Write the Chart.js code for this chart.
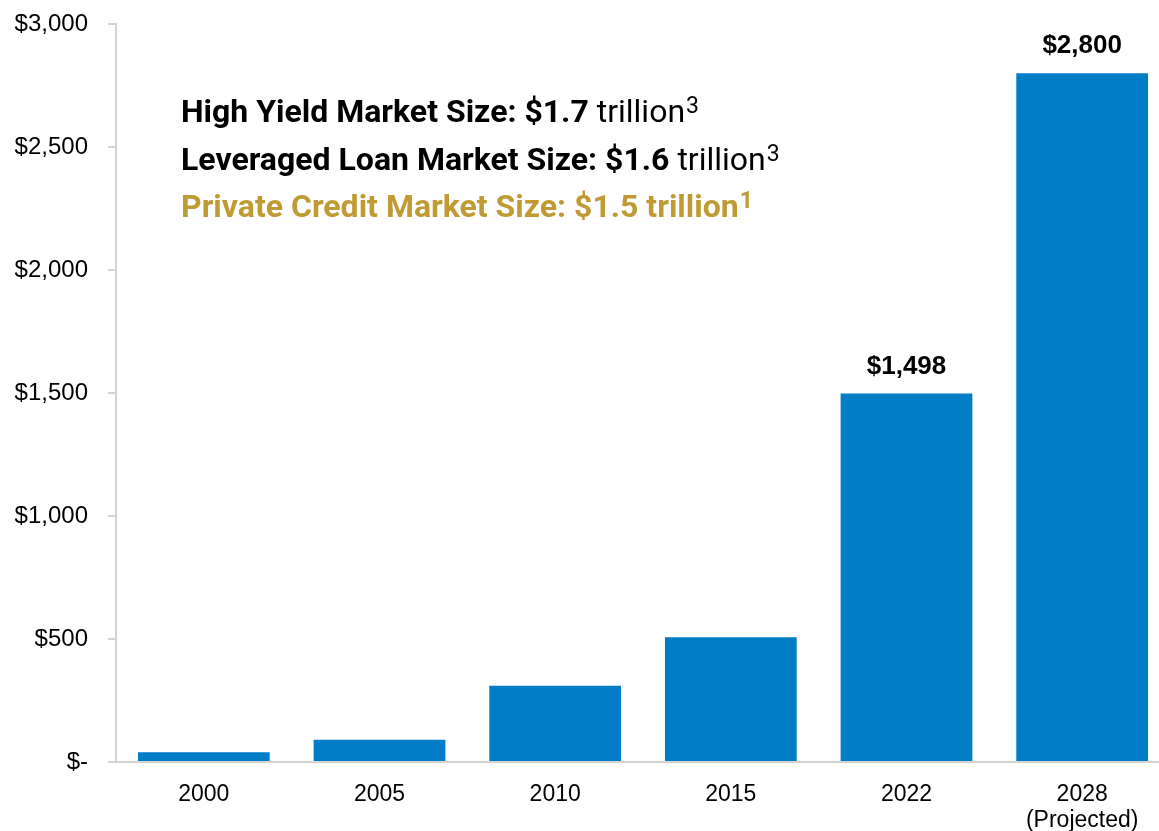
<!DOCTYPE html>
<html>
<head>
<meta charset="utf-8">
<script src="https://cdn.jsdelivr.net/npm/chart.js@4.4.1/dist/chart.umd.min.js"></script>
<style>
  html, body { margin: 0; padding: 0; background: #fff; overflow: hidden; }
  #wrap { position: absolute; left: 0; top: 0; width: 1170px; height: 831px; }
</style>
</head>
<body>
<div id="wrap"><canvas id="c" width="1170" height="831"></canvas></div>
<script>
// ---- data ----
const categories = ["2000", "2005", "2010", "2015", "2022", ["2028", "(Projected)"]];
const marketSize = [40, 90, 310, 507, 1498, 2800];
const valueLabels = [null, null, null, null, "$1,498", "$2,800"];
const yTickValues = [0, 500, 1000, 1500, 2000, 2500, 3000];
const yTickLabels = ["$-", "$500", "$1,000", "$1,500", "$2,000", "$2,500", "$3,000"];
const noteLines = [
  { color: "#000000", parts: [["High Yield Market Size: $1.7 ", "bold"], ["trillion", "normal"], ["3", "sup"]] },
  { color: "#000000", parts: [["Leveraged Loan Market Size: $1.6 ", "bold"], ["trillion", "normal"], ["3", "sup"]] },
  { color: "#C09A32", parts: [["Private Credit Market Size: $1.5 trillion", "bold"], ["1", "supbold"]] }
];

const BAR_COLOR = "#007DC5";
const AXIS_COLOR = "#D3D3D3";
const NOTE_FONT = "Roboto";

const valueLabelPlugin = {
  id: "valueLabels",
  afterDatasetsDraw(chart) {
    const ctx = chart.ctx;
    const meta = chart.getDatasetMeta(0);
    ctx.save();
    ctx.font = "bold 26px 'Liberation Sans', Arial, sans-serif";
    ctx.fillStyle = "#000";
    ctx.textAlign = "center";
    ctx.textBaseline = "middle";
    meta.data.forEach((bar, i) => {
      if (valueLabels[i]) ctx.fillText(valueLabels[i], bar.x, bar.y - 27);
    });
    ctx.restore();
  }
};

const notePlugin = {
  id: "notes",
  afterDraw(chart) {
    const ctx = chart.ctx;
    const x0 = 181;
    const baselines = [122, 169.5, 217];
    ctx.save();
    ctx.textBaseline = "alphabetic";
    ctx.textAlign = "left";
    noteLines.forEach((line, li) => {
      let x = x0;
      ctx.fillStyle = line.color;
      line.parts.forEach(([t, kind]) => {
        let y = baselines[li];
        if (kind === "bold") ctx.font = `bold 32px ${NOTE_FONT}`;
        else if (kind === "normal") ctx.font = `32px ${NOTE_FONT}`;
        else if (kind === "sup") { ctx.font = `23px ${NOTE_FONT}`; y -= 9; x += 1; }
        else { ctx.font = `bold 23px ${NOTE_FONT}`; y -= 9; x += 1; }
        ctx.fillText(t, x, y);
        x += ctx.measureText(t).width;
      });
    });
    ctx.restore();
  }
};

new Chart(document.getElementById("c"), {
  type: "bar",
  data: {
    labels: categories,
    datasets: [{
      data: marketSize,
      backgroundColor: BAR_COLOR,
      barPercentage: 0.75,
      categoryPercentage: 1.0,
      borderWidth: 0
    }]
  },
  options: {
    responsive: false,
    animation: false,
    layout: { padding: { top: 24, right: 0, left: 0, bottom: 0 } },
    plugins: { legend: { display: false }, tooltip: { enabled: false } },
    scales: {
      x: {
        grid: { display: true, drawOnChartArea: false, drawTicks: false },
        border: { display: true, color: AXIS_COLOR, width: 2 },
        ticks: {
          color: "#000",
          padding: 20,
          maxRotation: 0,
          font: { family: "'Liberation Sans', Arial, sans-serif", size: 23, lineHeight: 1.12 }
        },
        afterFit(scale) { scale.height = 69; }
      },
      y: {
        min: 0, max: 3000,
        afterBuildTicks(scale) { scale.ticks = yTickValues.map(v => ({ value: v })); },
        grid: { display: true, drawOnChartArea: false, drawTicks: true, tickLength: 8, color: AXIS_COLOR, lineWidth: 2 },
        border: { display: true, color: AXIS_COLOR, width: 2 },
        ticks: {
          color: "#000",
          padding: 20,
          font: { family: "'Liberation Sans', Arial, sans-serif", size: 24 },
          callback: (v) => { const i = yTickValues.indexOf(v); return i >= 0 ? yTickLabels[i] : ""; }
        },
        afterFit(scale) { scale.width = 116; scale.paddingTop = 0; scale.paddingBottom = 0; }
      }
    }
  },
  plugins: [valueLabelPlugin, notePlugin]
});
</script>
</body>
</html>
